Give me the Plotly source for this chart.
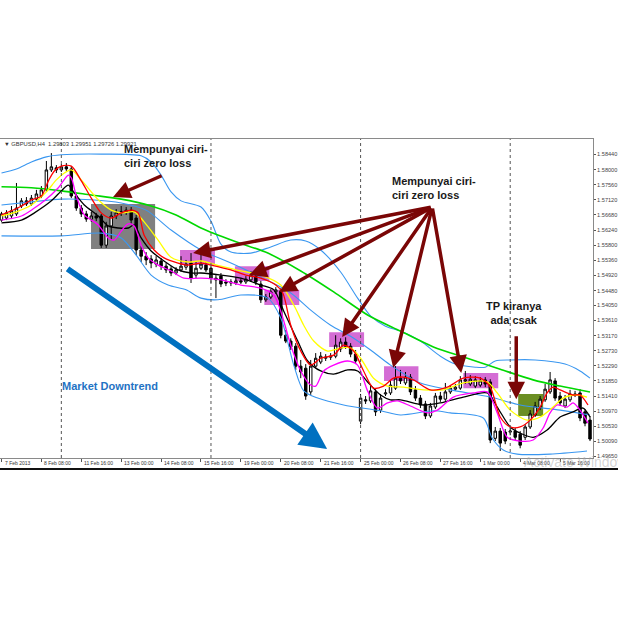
import plotly.graph_objects as go

# ---------------- data ----------------
bar_open = [1.5653, 1.5659, 1.5665, 1.5671, 1.5694, 1.5709, 1.5700, 1.5714, 1.5723, 1.5741,
            1.5799, 1.5805, 1.5799, 1.5808, 1.5802, 1.5723, 1.5688, 1.5671, 1.5656, 1.5665,
            1.5665, 1.5580, 1.5636, 1.5665, 1.5674, 1.5677, 1.5682, 1.5659, 1.5566, 1.5548,
            1.5540, 1.5525, 1.5534, 1.5519, 1.5511, 1.5499, 1.5508, 1.5516, 1.5528, 1.5493,
            1.5513, 1.5522, 1.5513, 1.5484, 1.5490, 1.5473, 1.5470, 1.5470, 1.5476, 1.5473,
            1.5479, 1.5490, 1.5467, 1.5421, 1.5429, 1.5444, 1.5447, 1.5318, 1.5301, 1.5286,
            1.5228, 1.5222, 1.5153, 1.5228, 1.5240, 1.5251, 1.5254, 1.5257, 1.5278, 1.5298,
            1.5286, 1.5263, 1.5068, 1.5130, 1.5127, 1.5153, 1.5100, 1.5147, 1.5150, 1.5164,
            1.5193, 1.5179, 1.5196, 1.5159, 1.5135, 1.5118, 1.5083, 1.5109, 1.5141, 1.5132,
            1.5153, 1.5161, 1.5164, 1.5185, 1.5176, 1.5170, 1.5173, 1.5188, 1.5182, 1.5018,
            1.5039, 1.5036, 1.5036, 1.5039, 1.5030, 1.5021, 1.5051, 1.5086, 1.5106, 1.5130,
            1.5153, 1.5185, 1.5141, 1.5112, 1.5130, 1.5147, 1.5150, 1.5095, 1.5071]
bar_high = [1.5677, 1.5682, 1.5694, 1.5761, 1.5717, 1.5720, 1.5726, 1.5741, 1.5752, 1.5825,
            1.5848, 1.5813, 1.5816, 1.5819, 1.5810, 1.5729, 1.5697, 1.5680, 1.5677, 1.5674,
            1.5671, 1.5648, 1.5677, 1.5685, 1.5694, 1.5691, 1.5691, 1.5668, 1.5577, 1.5560,
            1.5551, 1.5548, 1.5543, 1.5528, 1.5519, 1.5516, 1.5548, 1.5537, 1.5557, 1.5531,
            1.5560, 1.5531, 1.5519, 1.5493, 1.5499, 1.5481, 1.5481, 1.5487, 1.5484, 1.5490,
            1.5505, 1.5499, 1.5476, 1.5438, 1.5452, 1.5458, 1.5455, 1.5333, 1.5309, 1.5295,
            1.5246, 1.5234, 1.5246, 1.5266, 1.5269, 1.5263, 1.5266, 1.5318, 1.5309, 1.5312,
            1.5295, 1.5275, 1.5147, 1.5141, 1.5170, 1.5161, 1.5147, 1.5161, 1.5185, 1.5228,
            1.5217, 1.5211, 1.5205, 1.5170, 1.5144, 1.5127, 1.5121, 1.5150, 1.5153, 1.5179,
            1.5173, 1.5176, 1.5199, 1.5214, 1.5202, 1.5199, 1.5196, 1.5196, 1.5190, 1.5051,
            1.5048, 1.5045, 1.5048, 1.5048, 1.5039, 1.5059, 1.5100, 1.5124, 1.5141, 1.5176,
            1.5211, 1.5193, 1.5153, 1.5144, 1.5159, 1.5156, 1.5161, 1.5103, 1.5083]
bar_low = [1.5648, 1.5653, 1.5656, 1.5665, 1.5688, 1.5694, 1.5694, 1.5709, 1.5717, 1.5735,
           1.5793, 1.5790, 1.5793, 1.5796, 1.5717, 1.5680, 1.5662, 1.5648, 1.5648, 1.5650,
           1.5572, 1.5572, 1.5595, 1.5656, 1.5665, 1.5668, 1.5642, 1.5551, 1.5531, 1.5522,
           1.5513, 1.5516, 1.5508, 1.5499, 1.5490, 1.5493, 1.5502, 1.5508, 1.5470, 1.5484,
           1.5508, 1.5502, 1.5470, 1.5426, 1.5458, 1.5461, 1.5461, 1.5464, 1.5467, 1.5467,
           1.5473, 1.5464, 1.5412, 1.5415, 1.5423, 1.5438, 1.5309, 1.5295, 1.5275, 1.5217,
           1.5193, 1.5130, 1.5144, 1.5222, 1.5234, 1.5243, 1.5246, 1.5251, 1.5269, 1.5278,
           1.5254, 1.5234, 1.5059, 1.5118, 1.5121, 1.5083, 1.5092, 1.5141, 1.5144, 1.5159,
           1.5176, 1.5173, 1.5144, 1.5127, 1.5106, 1.5074, 1.5077, 1.5103, 1.5124, 1.5127,
           1.5147, 1.5156, 1.5159, 1.5176, 1.5170, 1.5164, 1.5167, 1.5167, 1.5004, 1.5010,
           1.4981, 1.5001, 1.5027, 1.5013, 1.4989, 1.5013, 1.5045, 1.5080, 1.5100, 1.5124,
           1.5147, 1.5127, 1.5112, 1.5106, 1.5124, 1.5138, 1.5068, 1.5053, 1.5010]
bar_close = [1.5671, 1.5674, 1.5680, 1.5688, 1.5709, 1.5700, 1.5717, 1.5729, 1.5741, 1.5799,
             1.5808, 1.5799, 1.5808, 1.5802, 1.5723, 1.5688, 1.5671, 1.5656, 1.5665, 1.5659,
             1.5580, 1.5636, 1.5665, 1.5674, 1.5677, 1.5682, 1.5653, 1.5566, 1.5548, 1.5537,
             1.5528, 1.5537, 1.5519, 1.5508, 1.5499, 1.5508, 1.5519, 1.5525, 1.5484, 1.5513,
             1.5525, 1.5508, 1.5484, 1.5479, 1.5467, 1.5470, 1.5473, 1.5476, 1.5473, 1.5481,
             1.5493, 1.5473, 1.5421, 1.5429, 1.5444, 1.5450, 1.5318, 1.5301, 1.5284, 1.5228,
             1.5211, 1.5141, 1.5228, 1.5251, 1.5257, 1.5254, 1.5257, 1.5289, 1.5298, 1.5286,
             1.5263, 1.5243, 1.5135, 1.5127, 1.5156, 1.5095, 1.5135, 1.5150, 1.5173, 1.5193,
             1.5185, 1.5196, 1.5153, 1.5135, 1.5115, 1.5083, 1.5112, 1.5141, 1.5132, 1.5153,
             1.5164, 1.5167, 1.5188, 1.5188, 1.5190, 1.5188, 1.5185, 1.5176, 1.5013, 1.5039,
             1.5004, 1.5010, 1.5039, 1.5021, 1.4998, 1.5051, 1.5089, 1.5112, 1.5132, 1.5161,
             1.5188, 1.5135, 1.5121, 1.5132, 1.5147, 1.5144, 1.5077, 1.5062, 1.5016]
bar_index = list(range(len(bar_open)))

bb_upper_x = [0, 3, 6, 9, 12, 20, 28, 30, 32, 34, 36, 40, 42, 44, 46, 50, 54, 58, 61, 64, 68,
              71.4, 74, 77, 80, 84, 88, 91, 95, 97, 99, 102, 107, 113, 116, 118]
bb_upper_y = [1.5790, 1.5802, 1.5822, 1.5837, 1.5843, 1.5845, 1.5840, 1.5822, 1.5784, 1.5735,
              1.5709, 1.5691, 1.5650, 1.5583, 1.5560, 1.5557, 1.5575, 1.5595, 1.5592, 1.5566,
              1.5502, 1.5426, 1.5374, 1.5344, 1.5330, 1.5301, 1.5257, 1.5234, 1.5225, 1.5225,
              1.5243, 1.5246, 1.5246, 1.5234, 1.5214, 1.5193]
bb_mid_x = [0, 6, 12, 18, 24, 29, 34, 40, 46, 52, 58, 62, 66, 70, 74, 78, 84, 90, 98, 104, 112, 118]
bb_mid_y = [1.5697, 1.5706, 1.5714, 1.5712, 1.5703, 1.5682, 1.5624, 1.5566, 1.5528, 1.5487,
            1.5441, 1.5391, 1.5347, 1.5315, 1.5275, 1.5231, 1.5179, 1.5159, 1.5138, 1.5115,
            1.5100, 1.5086]
bb_lower_x = [0, 12, 20, 24, 27, 30, 33.4, 37, 40, 43.4, 48, 53.4, 56, 58.6, 60.6, 63.4, 68.6,
              76, 80, 86.6, 90, 96.6, 98.4, 100.6, 103.4, 110, 117.4]
bb_lower_y = [1.5607, 1.5607, 1.5615, 1.5601, 1.5551, 1.5493, 1.5464, 1.5450, 1.5426, 1.5421,
              1.5435, 1.5426, 1.5368, 1.5231, 1.5156, 1.5135, 1.5115, 1.5098, 1.5086, 1.5098,
              1.5092, 1.5077, 1.5018, 1.4984, 1.4972, 1.4972, 1.4981]
green_x = [0, 6, 12, 18, 24, 30, 35, 40, 46.6, 53.4, 60, 66.6, 73.4, 80, 86.6, 93.4, 100, 106.6, 112, 118]
green_y = [1.5750, 1.5747, 1.5738, 1.5726, 1.5714, 1.5694, 1.5668, 1.5630, 1.5592, 1.5557,
           1.5505, 1.5444, 1.5377, 1.5330, 1.5284, 1.5251, 1.5219, 1.5188, 1.5170, 1.5153]
red_x = [0, 4, 6, 8, 9.4, 10.6, 12, 14, 16, 18, 20, 22, 24, 26, 27.4, 28.6, 30.6, 32.6, 35.4,
         37.4, 40, 42, 46, 49, 52, 55, 56.4, 58, 60, 62, 64, 66.6, 68.6, 70.6, 72.6, 74.6, 76.6,
         78.6, 80.6, 82.6, 86, 89.4, 92.6, 96, 98, 100, 102, 104, 106, 108, 109.4, 110.6, 112,
         114.6, 116, 117.6]
red_y = [1.5668, 1.5694, 1.5712, 1.5723, 1.5767, 1.5796, 1.5810, 1.5810, 1.5767, 1.5717,
         1.5674, 1.5659, 1.5674, 1.5682, 1.5674, 1.5609, 1.5566, 1.5543, 1.5528, 1.5522,
         1.5528, 1.5522, 1.5508, 1.5493, 1.5484, 1.5464, 1.5441, 1.5347, 1.5272, 1.5231,
         1.5251, 1.5260, 1.5289, 1.5272, 1.5214, 1.5164, 1.5170, 1.5193, 1.5196, 1.5188,
         1.5159, 1.5167, 1.5193, 1.5193, 1.5167, 1.5080, 1.5051, 1.5051, 1.5071, 1.5109,
         1.5150, 1.5167, 1.5159, 1.5144, 1.5144, 1.5115]
yellow_x = [0, 3, 6, 9, 11, 12.6, 14, 16, 19.4, 22, 24, 26.6, 28.6, 31.4, 34, 37.4, 40, 44, 48,
            52, 56, 58.6, 60.6, 62.6, 65.4, 68, 70, 72, 74.6, 77.4, 80.6, 84.6, 88.6, 92.6, 97.4,
            99.4, 102, 105.4, 108, 110.6, 112.6, 115.4, 117.4]
yellow_y = [1.5665, 1.5677, 1.5697, 1.5735, 1.5770, 1.5790, 1.5799, 1.5770, 1.5712, 1.5682,
            1.5674, 1.5677, 1.5648, 1.5595, 1.5545, 1.5531, 1.5534, 1.5519, 1.5505, 1.5493,
            1.5464, 1.5406, 1.5347, 1.5301, 1.5272, 1.5281, 1.5281, 1.5251, 1.5193, 1.5170,
            1.5167, 1.5159, 1.5159, 1.5179, 1.5182, 1.5150, 1.5100, 1.5071, 1.5080, 1.5109,
            1.5135, 1.5144, 1.5138]
magenta_x = [0, 4, 6.6, 8.6, 11.4, 13.4, 14, 15, 16.6, 19.4, 21.4, 22.6, 24, 25.4, 26.6, 28,
             29.4, 31.4, 34, 36.6, 40, 44, 48, 52, 54.6, 56, 58, 60, 62, 63, 64.6, 66.6, 69.4,
             71.4, 73.4, 75.4, 77.4, 79.4, 82, 85.4, 87.4, 90.6, 94.6, 97.4, 99.4, 101.4, 104,
             106.6, 108.6, 110, 111.4, 113.4, 114.6, 116, 117.6]
magenta_y = [1.5653, 1.5665, 1.5688, 1.5709, 1.5747, 1.5784, 1.5776, 1.5723, 1.5668, 1.5639,
             1.5601, 1.5595, 1.5621, 1.5642, 1.5636, 1.5580, 1.5543, 1.5522, 1.5505, 1.5484,
             1.5484, 1.5479, 1.5464, 1.5455, 1.5435, 1.5388, 1.5289, 1.5214, 1.5173, 1.5170,
             1.5214, 1.5231, 1.5243, 1.5231, 1.5156, 1.5106, 1.5121, 1.5127, 1.5112, 1.5092,
             1.5100, 1.5138, 1.5150, 1.5153, 1.5092, 1.5021, 1.5010, 1.5013, 1.5048, 1.5092,
             1.5115, 1.5109, 1.5121, 1.5100, 1.5062]
black_x = [0, 4, 6.6, 10, 12, 13.4, 14.6, 16.6, 19.4, 21.4, 23.4, 25.4, 26.6, 28, 30, 32.6,
           35.4, 38, 40, 44, 48, 52, 54.6, 56.6, 59.4, 61.4, 64, 66.6, 69.4, 71.4, 73.4, 76,
           78, 80, 84.6, 88, 92.6, 97.4, 99.4, 102, 104, 106.6, 109.4, 112, 114.6, 116.6, 118]
black_y = [1.5645, 1.5653, 1.5674, 1.5709, 1.5738, 1.5755, 1.5732, 1.5697, 1.5665, 1.5636,
           1.5630, 1.5630, 1.5639, 1.5601, 1.5563, 1.5534, 1.5508, 1.5499, 1.5499, 1.5493,
           1.5484, 1.5464, 1.5450, 1.5388, 1.5301, 1.5243, 1.5214, 1.5205, 1.5217, 1.5214,
           1.5182, 1.5144, 1.5130, 1.5130, 1.5115, 1.5121, 1.5138, 1.5150, 1.5109, 1.5051,
           1.5033, 1.5021, 1.5042, 1.5080, 1.5095, 1.5106, 1.5080]

x_tick_bars = [0, 8, 16, 24, 32, 40, 48, 56, 64, 72, 80, 88, 96, 104, 112]
x_tick_text = ["7 Feb 2013", "8 Feb 08:00", "11 Feb 16:00", "13 Feb 00:00", "14 Feb 08:00",
               "15 Feb 16:00", "19 Feb 00:00", "20 Feb 08:00", "21 Feb 16:00", "25 Feb 00:00",
               "26 Feb 08:00", "27 Feb 16:00", "1 Mar 00:00", "4 Mar 08:00", "5 Mar 16:00"]
y_tick_vals = [1.5844, 1.5800, 1.5756, 1.5712, 1.5668, 1.5624, 1.5580, 1.5536, 1.5492, 1.5448,
               1.5405, 1.5361, 1.5317, 1.5273, 1.5229, 1.5185, 1.5141, 1.5097, 1.5053, 1.5009,
               1.4965]
y_tick_text = ["1.58440", "1.58000", "1.57560", "1.57120", "1.56680", "1.56240", "1.55800",
               "1.55360", "1.54920", "1.54480", "1.54050", "1.53610", "1.53170", "1.52730",
               "1.52290", "1.51850", "1.51410", "1.50970", "1.50530", "1.50090", "1.49650"]
separator_bars = [12, 42, 72, 102]

# ---------------- figure ----------------
fig = go.Figure()

fig.add_trace(go.Candlestick(
    x=bar_index, open=bar_open, high=bar_high, low=bar_low, close=bar_close,
    increasing=dict(line=dict(color="black", width=1), fillcolor="white"),
    decreasing=dict(line=dict(color="black", width=1), fillcolor="black"),
    whiskerwidth=0, showlegend=False, hoverinfo="skip"))

def add_line(xs, ys, color, width):
    fig.add_trace(go.Scatter(x=xs, y=ys, mode="lines", showlegend=False, hoverinfo="skip",
                             line=dict(color=color, width=width, shape="spline", smoothing=0.8)))

add_line(bb_upper_x, bb_upper_y, "#3A97F0", 1.1)
add_line(bb_mid_x, bb_mid_y, "#3A97F0", 1.1)
add_line(bb_lower_x, bb_lower_y, "#3A97F0", 1.1)
add_line(green_x, green_y, "#00D800", 1.6)
add_line(black_x, black_y, "#000000", 1.3)
add_line(magenta_x, magenta_y, "#FF00FF", 1.3)
add_line(yellow_x, yellow_y, "#FFFF00", 1.3)
add_line(red_x, red_y, "#FF0000", 1.3)

shapes = []
def box(x0, x1, y0, y1, color):
    shapes.append(dict(type="rect", xref="x", yref="y", x0=x0, x1=x1, y0=y0, y1=y1,
                       fillcolor=color, line=dict(width=0), layer="below"))

box(17.95, 30.8, 1.5569, 1.5700, "#808080")
PINK = "#D46CD4"
box(35.8, 42.8, 1.5522, 1.5566, PINK)
box(46.8, 53.7, 1.5476, 1.5519, PINK)
box(52.7, 59.7, 1.5406, 1.5450, PINK)
box(65.7, 72.7, 1.5284, 1.5327, PINK)
box(76.7, 83.6, 1.5185, 1.5228, PINK)
box(92.6, 99.6, 1.5164, 1.5208, PINK)
box(103.6, 108.6, 1.5083, 1.5147, "#6B8E23")

for b in separator_bars:
    shapes.append(dict(type="line", xref="x", yref="paper", x0=b, x1=b, y0=0, y1=1,
                       line=dict(color="#555555", width=1, dash="dot")))
shapes.append(dict(type="line", xref="paper", yref="paper", x0=0, x1=1.05, y0=-0.0345, y1=-0.0345,
                   line=dict(color="#111111", width=2)))

annotations = []
MAROON = "#7A0606"
def arrow(tx, ty, hx, hy, color, width, size=1.0):
    annotations.append(dict(x=hx, y=hy, ax=tx, ay=ty, xref="x", yref="y", axref="x", ayref="y",
                            text="", showarrow=True, arrowhead=2, arrowsize=size,
                            arrowwidth=width, arrowcolor=color, standoff=0))

arrow(32.4, 1.5784, 22.37, 1.5720, MAROON, 3.5, 1.0)
for hx, hy in [(38.42, 1.5557), (49.65, 1.5493), (55.67, 1.5444), (68.31, 1.5313),
               (78.54, 1.5223), (92.18, 1.5208)]:
    arrow(86.36, 1.5691, hx, hy, MAROON, 3.5, 1.0)
arrow(103.21, 1.5319, 103.21, 1.5132, MAROON, 3.5, 1.0)
arrow(12.94, 1.5514, 65.3, 1.4987, "#0070C0", 6, 0.9)

TXT = dict(family="Liberation Sans, Arial, sans-serif", size=11, color="#1a1a1a")
annotations.append(dict(x=24.17, y=1.5840, xref="x", yref="y", xanchor="left", yanchor="middle",
                        align="left", showarrow=False, font=TXT,
                        text="<b>Mempunyai ciri-<br>ciri zero loss</b>"))
annotations.append(dict(x=77.93, y=1.5746, xref="x", yref="y", xanchor="left", yanchor="middle",
                        align="left", showarrow=False, font=TXT,
                        text="<b>Mempunyai ciri-<br>ciri zero loss</b>"))
annotations.append(dict(x=102.81, y=1.5384, xref="x", yref="y", xanchor="center", yanchor="middle",
                        align="center", showarrow=False, font=TXT,
                        text="<b>TP kiranya<br>ada csak</b>"))
annotations.append(dict(x=11.74, y=1.5170, xref="x", yref="y", xanchor="left", yanchor="middle",
                        showarrow=False,
                        font=dict(family="Liberation Sans, Arial, sans-serif", size=11, color="#1F73C4"),
                        text="<b>Market Downtrend</b>"))
annotations.append(dict(x=0.004, y=0.984, xref="paper", yref="paper", xanchor="left", yanchor="middle",
                        showarrow=False,
                        font=dict(family="Liberation Sans, Arial, sans-serif", size=5.8, color="#333333"),
                        text="▼ GBPUSD,H4  1.29803 1.29951 1.29726 1.29921"))
for b, t in zip(x_tick_bars, x_tick_text):
    annotations.append(dict(x=b, y=-0.0157, xref="x", yref="paper", xanchor="left", yanchor="middle",
                            xshift=1, showarrow=False,
                            font=dict(family="Liberation Sans, Arial, sans-serif", size=5, color="#333333"),
                            text=t))
annotations.append(dict(x=522 / 593, y=-0.013, xref="paper", yref="paper", xanchor="left", yanchor="middle",
                        showarrow=False,
                        font=dict(family="Liberation Sans, Arial, sans-serif", size=14, color="rgba(160,160,160,0.45)"),
                        text="Activate Windows"))

fig.update_layout(
    width=618, height=618,
    margin=dict(l=0, r=25, t=139, b=160),
    paper_bgcolor="white", plot_bgcolor="white",
    showlegend=False, hovermode=False,
    shapes=shapes, annotations=annotations,
    xaxis=dict(range=[-0.3, 118.6], showgrid=False, zeroline=False, rangeslider=dict(visible=False),
               tickvals=x_tick_bars, showticklabels=False, ticks="outside", ticklen=3,
               tickcolor="#555555", showline=True, linecolor="#8a8a8a", linewidth=1, mirror=True),
    yaxis=dict(range=[1.49607, 1.5889], side="right", showgrid=False, zeroline=False,
               tickvals=y_tick_vals, ticktext=y_tick_text, ticks="outside", ticklen=2,
               tickcolor="#555555", tickfont=dict(family="Liberation Sans, Arial, sans-serif", size=5.6, color="#444444"),
               showline=True, linecolor="#8a8a8a", linewidth=1, mirror=True),
)

fig.write_html("out.html", config={"displayModeBar": False},
               post_script="document.body.style.margin='0';document.body.style.padding='0';document.body.style.overflow='hidden';")
